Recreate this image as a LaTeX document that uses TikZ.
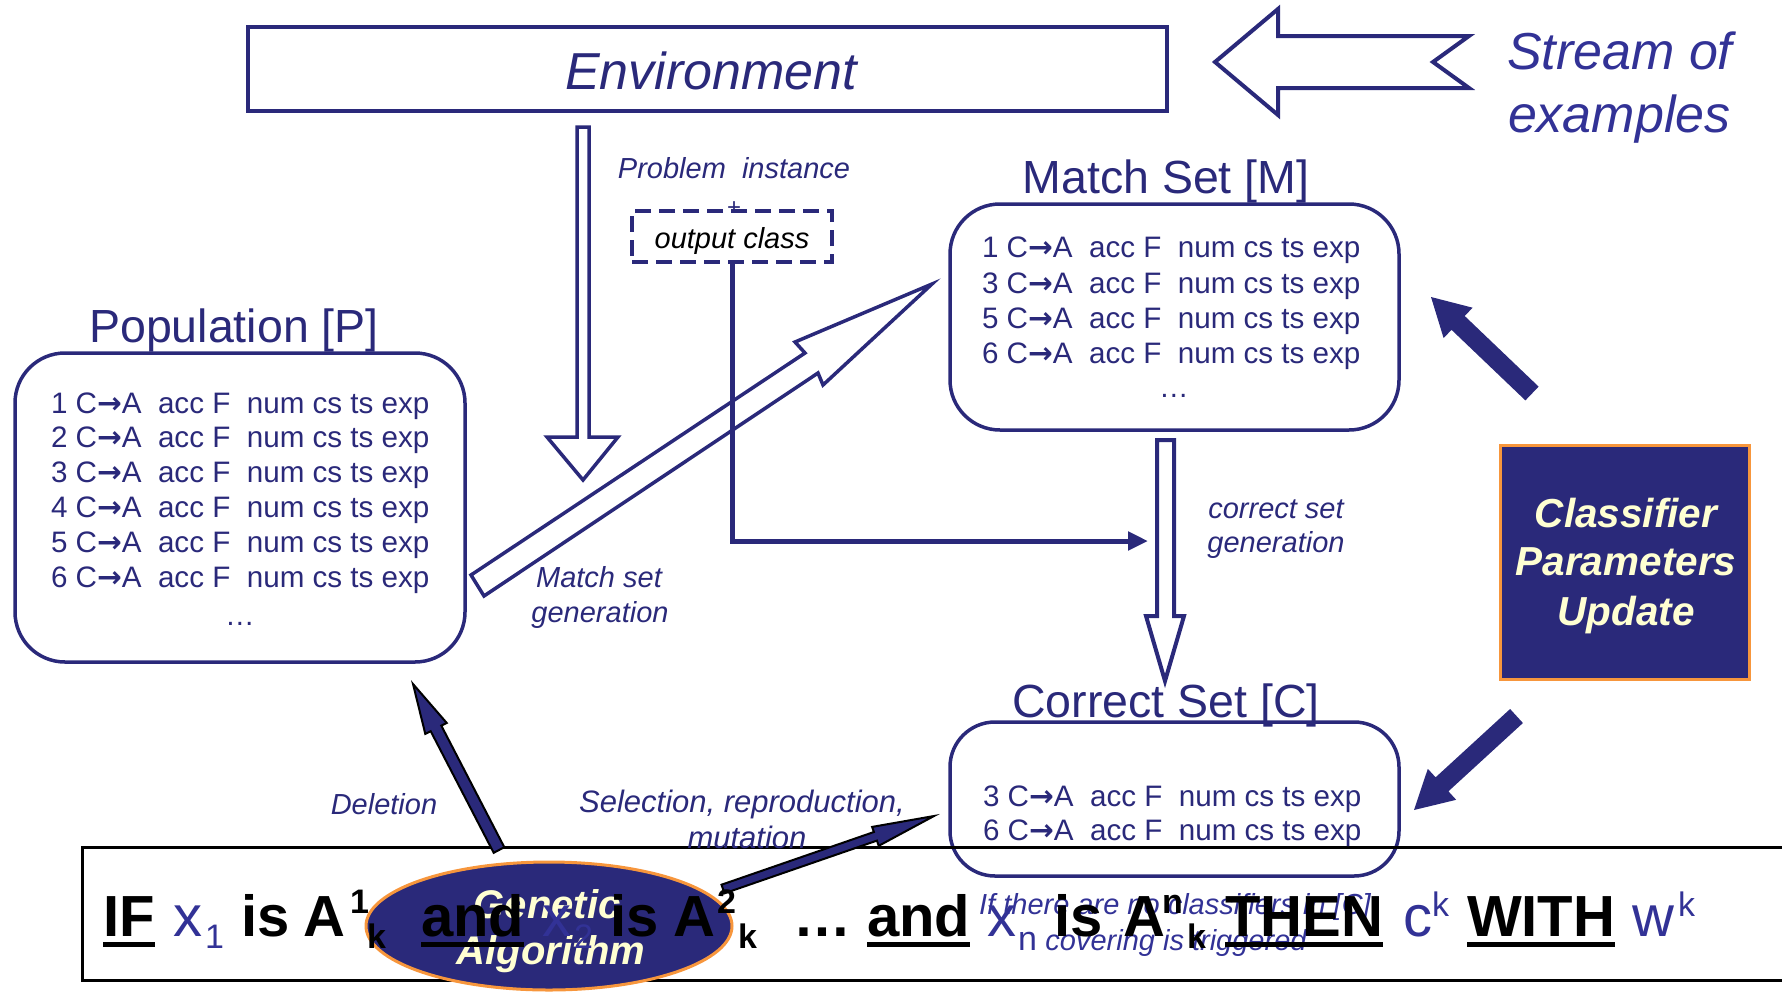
\documentclass[tikz,border=0pt]{standalone}
\usepackage{fontspec}
\setmainfont{Liberation Sans}
\newfontfamily\djv{DejaVu Sans}
\usetikzlibrary{arrows.meta,shapes.geometric}
\definecolor{navy}{RGB}{42,41,122}
\definecolor{tblue}{RGB}{50,50,150}
\definecolor{orng}{RGB}{247,150,60}
\definecolor{cream}{RGB}{255,255,210}
\newcommand\fsz[1]{\fontsize{#1}{#1}\selectfont}
\newcommand\rarr{{\djv\bfseries →}}
\newcommand\entrytext[1]{#1\ C\rarr A~~acc F~~num cs ts exp}
\begin{document}
\begin{tikzpicture}[x=1pt,y=-1pt,line join=miter,
  every node/.style={inner sep=0pt,outer sep=0pt},
  box/.style={draw=navy,line width=3.5pt,rounded corners=50pt},
  title/.style={text=navy,font=\fsz{46.5},anchor=base},
  entry/.style={text=navy,font=\fsz{29.6},anchor=base west},
  lbl/.style={text=navy,font=\fsz{29}\itshape,anchor=base},
  outarrow/.style={draw=navy,line width=3.5pt},
  solidarrow/.style={fill=navy},
  gaarrow/.style={fill=navy,draw=black,line width=2pt},
  bw/.style={text=black,font=\fsz{58}\bfseries,anchor=base west},
  var/.style={text=tblue,font=\fsz{58},anchor=base west},
  sc/.style={text=black,font=\fsz{34}\bfseries,anchor=base west},
  vsc/.style={text=tblue,font=\fsz{34},anchor=base west},
  gatext/.style={text=cream,font=\fsz{40}\bfseries\itshape,anchor=base},
  cputext/.style={text=cream,font=\fsz{40.5}\bfseries\itshape,anchor=base}]
\useasboundingbox (0,0) rectangle (1782,991);
\clip (0,0) rectangle (1782,991);

% ---------- boxes ----------
\node[draw=navy,line width=4pt,minimum width=919pt,minimum height=84pt] (env) at (707.5,69) {};
\node[box,minimum width=450pt,minimum height=309pt] (pop) at (240,507.5) {};
\node[box,minimum width=449pt,minimum height=226pt] (match) at (1174.5,317) {};
\node[box,rounded corners=45pt,minimum width=449pt,minimum height=154pt] (corr) at (1174.5,799) {};
\node[fill=navy,draw=orng,line width=3pt,minimum width=249pt,minimum height=234pt] (cpu) at (1624.5,562) {};
\node[draw=navy,line width=3.5pt,dash pattern=on 16pt off 8pt,minimum width=200pt,minimum height=51pt] (oc) at (732,236.5) {};
\node[draw=black,line width=3pt,minimum width=1718pt,minimum height=133pt] (rule) at (941,913.5) {};

% ---------- outlined block arrows ----------
\draw[outarrow,line width=4pt] (1215,62) -- (1278,9) -- (1278,36) -- (1469,36) -- (1433,62) -- (1469,88) -- (1278,88) -- (1278,115) -- cycle;
\draw[outarrow] (577,127) -- (589,127) -- (589,437) -- (618,437) -- (583,480) -- (547,437) -- (577,437) -- cycle;
\draw[outarrow,line width=4pt] (1157,440) -- (1174,440) -- (1174,616) -- (1184,616) -- (1165,681) -- (1146,616) -- (1157,616) -- cycle;
\draw[outarrow] (471,575) -- (805,353) -- (795,342) -- (932,284) -- (823,385) -- (818,373) -- (484,596) -- cycle;

% ---------- solid arrows from the update box ----------
\fill[solidarrow] (1538.6,386.6) -- (1464.7,316.0) -- (1472.6,307.7) -- (1431,297) -- (1443.6,338.1) -- (1451.5,329.8) -- (1525.4,400.4) -- cycle;
\fill[solidarrow] (1522.9,723.0) -- (1448.4,791.3) -- (1456.2,799.8) -- (1414,810) -- (1427.8,768.8) -- (1435.6,777.3) -- (1510.1,709.0) -- cycle;

% ---------- output class connector ----------
\coordinate (octip) at (1148,541);
\draw[navy,line width=5pt,-{Triangle[length=20pt,width=18pt]}] (oc.south) |- (octip);

% ---------- texts ----------
\node[text=navy,font=\fsz{52}\itshape,anchor=base] (envt) at (711,89) {Environment};
\node[text=tblue,font=\fsz{52}\itshape,anchor=base west] (str1) at (1507,69) {Stream of};
\node[text=tblue,font=\fsz{52}\itshape,anchor=base west] (str2) at (1508,132) {examples};
\node[lbl] (prob) at (734,178) {Problem~~instance};
\node[text=navy,font=\fsz{24},anchor=center] (plus) at (734,209) {+};
\node[text=black,font=\fsz{29}\itshape,anchor=base] (oct) at (732,248) {output class};

\node[title] (popt) at (234,342) {Population [P]};
\node[title] (matcht) at (1166,193) {Match Set [M]};
\node[title] (corrt) at (1166,717) {Correct Set [C]};

\foreach \lab/\yy [count=\i] in {1/413,2/447,3/482,4/517,5/552,6/587}
  \node[entry] (p\i) at (51,\yy) {\entrytext{\lab}};
\node[entry,anchor=base] (pdots) at (240,625) {…};
\foreach \lab/\yy [count=\i] in {1/257,3/293,5/328,6/363}
  \node[entry] (m\i) at (982,\yy) {\entrytext{\lab}};
\node[entry,anchor=base] (mdots) at (1174,397) {…};
\foreach \lab/\yy [count=\i] in {3/806,6/840}
  \node[entry] (c\i) at (983,\yy) {\entrytext{\lab}};

\node[lbl] (msg1) at (599,587) {Match set};
\node[lbl] (msg2) at (600,622) {generation};
\node[lbl] (csg1) at (1276,518) {correct set};
\node[lbl] (csg2) at (1276,552) {generation};
\node[lbl] (del) at (384,814) {Deletion};
\node[lbl,font=\fsz{31}\itshape] (sel1) at (742,812) {Selection, reproduction,};
\node[lbl,font=\fsz{31}\itshape] (sel2) at (747,848) {mutation};

\node[cputext] (cpu1) at (1626,527) {Classifier};
\node[cputext] (cpu2) at (1626,575) {Parameters};
\node[cputext] (cpu3) at (1626,625) {Update};

% ---------- genetic algorithm ----------
\node[ellipse,fill=navy,draw=orng,line width=3pt,minimum width=366pt,minimum height=128pt] (ga) at (549,926) {};
\node[gatext] (ga1) at (547,918) {Genetic};
\node[gatext] (ga2) at (551,964) {Algorithm};

\filldraw[gaarrow] (504.3,847.2) -- (441.3,725.6) -- (446.7,722.9) -- (413,684) -- (425.3,733.9) -- (430.7,731.2) -- (493.7,852.8) -- cycle;
\filldraw[gaarrow] (724.5,893.3) -- (876.9,840.6) -- (878.7,845.8) -- (934,816) -- (872.1,826.9) -- (873.9,832.0) -- (721.5,884.7) -- cycle;

% ---------- rule line ----------
\node[text=tblue,font=\fsz{29}\itshape,anchor=base] (cov1) at (1175,914) {If there are no classifiers in [C]};
\node[text=tblue,font=\fsz{29}\itshape,anchor=base] (cov2) at (1176,950) {covering is triggered};

\node[bw] (wIF) at (103,936) {IF};
\node[var] (wx1) at (173,936) {x};
\node[vsc] (wx1s) at (205,948) {1};
\node[bw] (wis1) at (241,936) {is};
\node[bw] (wA1) at (303,936) {A};
\node[sc] (wA1p) at (350,913) {1};
\node[sc] (wA1b) at (367,948) {k};
\node[bw] (wand1) at (421,936) {and};
\node[var] (wx2) at (542,936) {x};
\node[vsc] (wx2s) at (574,948) {2};
\node[bw] (wis2) at (610,936) {is};
\node[bw] (wA2) at (673,936) {A};
\node[sc] (wA2p) at (717,913) {2};
\node[sc] (wA2b) at (738,948) {k};
\node[bw] (wdots) at (793,936) {…};
\node[bw] (wand2) at (867,936) {and};
\node[var] (wx3) at (987,936) {x};
\node[vsc] (wx3s) at (1018,950) {n};
\node[bw] (wis3) at (1054,936) {is};
\node[bw] (wA3) at (1123,936) {A};
\node[sc] (wA3p) at (1162,913) {n};
\node[sc] (wA3b) at (1187,948) {k};
\node[bw] (wTHEN) at (1225,936) {THEN};
\node[var] (wc) at (1403,936) {c};
\node[vsc] (wcs) at (1432,916) {k};
\node[bw] (wWITH) at (1467,936) {WITH};
\node[var] (ww) at (1632,936) {w};
\node[vsc] (wws) at (1678,916) {k};
\foreach \w in {wIF,wand1,wand2,wTHEN,wWITH}
  \draw[black,line width=5pt] ([yshift=-8.5pt]\w.base west) -- ([yshift=-8.5pt]\w.base east);
\end{tikzpicture}
\end{document}
